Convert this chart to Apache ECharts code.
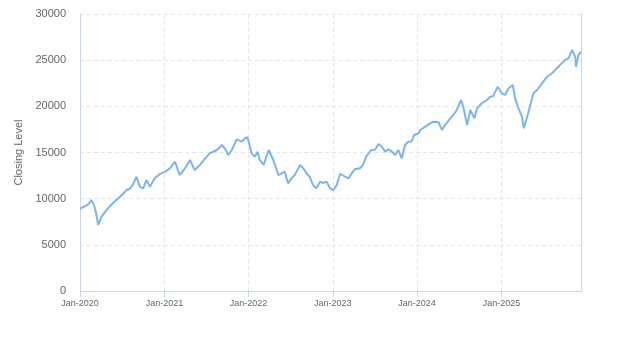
<!DOCTYPE html>
<html>
<head>
<meta charset="utf-8">
<script src="https://cdn.jsdelivr.net/npm/echarts@6/dist/echarts.min.js"></script>
<style>
  html, body { margin: 0; padding: 0; background: #fff; }
  #chart { width: 623px; height: 350px; }
</style>
</head>
<body>
<div id="chart"></div>
<script>
// Index closing levels, 2020 – 2025
const dates = [
  '2020-01-02','2020-01-14','2020-01-27','2020-02-07','2020-02-19','2020-03-02','2020-03-10','2020-03-20',
  '2020-03-27','2020-04-03','2020-04-17','2020-05-01','2020-05-22','2020-06-15','2020-07-01','2020-07-21',
  '2020-08-04','2020-08-17','2020-09-02','2020-09-16','2020-10-01','2020-10-15','2020-10-30','2020-11-20',
  '2020-12-11','2021-01-04','2021-01-25','2021-02-16','2021-03-08','2021-03-31','2021-04-22','2021-05-12',
  '2021-06-04','2021-06-25','2021-07-16','2021-08-16','2021-09-07','2021-09-21','2021-10-05','2021-10-20',
  '2021-11-10','2021-12-02','2021-12-16','2021-12-27','2022-01-14','2022-01-28','2022-02-09','2022-02-18',
  '2022-03-07','2022-03-14','2022-03-29','2022-04-18','2022-05-10','2022-05-24','2022-06-07','2022-06-21',
  '2022-07-06','2022-07-21','2022-08-12','2022-08-26','2022-09-09','2022-09-23','2022-10-07','2022-10-21',
  '2022-11-07','2022-11-21','2022-12-05','2022-12-20','2023-01-03','2023-01-18','2023-02-02','2023-02-09',
  '2023-02-23','2023-03-10','2023-03-24','2023-04-06','2023-04-28','2023-05-12','2023-05-26','2023-06-16',
  '2023-07-03','2023-07-18','2023-08-02','2023-08-16','2023-08-30','2023-09-14','2023-09-28','2023-10-12',
  '2023-10-27','2023-11-10','2023-11-24','2023-12-08','2023-12-20','2024-01-08','2024-01-15','2024-02-06',
  '2024-02-27','2024-03-12','2024-04-03','2024-04-18','2024-05-02','2024-05-24','2024-06-07','2024-06-21',
  '2024-07-10','2024-07-21','2024-08-05','2024-08-19','2024-09-06','2024-09-17','2024-10-08','2024-10-30',
  '2024-11-13','2024-11-26','2024-12-16','2025-01-03','2025-01-17','2025-02-01','2025-02-19','2025-03-03',
  '2025-03-16','2025-03-31','2025-04-08','2025-04-21','2025-05-06','2025-05-20','2025-06-04','2025-06-26',
  '2025-07-18','2025-08-08','2025-08-22','2025-09-05','2025-09-19','2025-10-03','2025-10-19','2025-11-03',
  '2025-11-17','2025-11-20','2025-12-01','2025-12-12'
];

const closes = [
  8900, 9100, 9250, 9400, 9850, 9300, 8500, 7150,
  7600, 8050, 8500, 8950, 9500, 10040, 10400, 10940,
  11100, 11500, 12380, 11300, 11120, 12020, 11300, 12200,
  12650, 12900, 13290, 14000, 12560, 13290, 14190, 13100,
  13650, 14300, 14910, 15270, 15810, 15400, 14730, 15270,
  16430, 16170, 16540, 16650, 14910, 14550, 15090, 14190,
  13650, 13600, 15270, 14190, 12560, 12750, 12920, 11660,
  12200, 12600, 13650, 13300, 12750, 12380, 11480, 11120,
  11840, 11700, 11840, 11120, 10940, 11480, 12700, 12500,
  12380, 12200, 12750, 13180, 13290, 13650, 14550, 15270,
  15300, 15920, 15630, 15090, 15350, 15090, 14730, 15270,
  14370, 15810, 16170, 16200, 16900, 17080, 17440, 17800,
  18160, 18340, 18300, 17440, 17980, 18700, 19060, 19600,
  20690, 19790, 17980, 19600, 18700, 19790, 20330, 20690,
  21040, 21100, 22130, 21410, 21230, 21950, 22310, 20690,
  19790, 18880, 17620, 18700, 20150, 21410, 21770, 22490,
  23210, 23580, 23930, 24290, 24650, 25010, 25200, 26100,
  25370, 24290, 25560, 25920
];

// Year labels on the time axis
const monthNames = ['Jan','Feb','Mar','Apr','May','Jun','Jul','Aug','Sep','Oct','Nov','Dec'];

const seriesData = dates.map((d, i) => [d, closes[i]]);

const chart = echarts.init(document.getElementById('chart'), null, { renderer: 'canvas' });

chart.setOption({
  animation: false,
  backgroundColor: '#ffffff',
  grid: { left: 80, right: 42, top: 14, bottom: 59, containLabel: false },
  xAxis: {
    type: 'time',
    min: '2020-01-01',
    max: dates[dates.length - 1],
    minInterval: 365 * 24 * 3600 * 1000,
    maxInterval: 366 * 24 * 3600 * 1000,
    axisLine: { show: true, lineStyle: { color: '#ccd6eb', width: 1 } },
    axisTick: { show: true, length: 6, lineStyle: { color: '#ccd6eb' } },
    axisLabel: {
      color: '#666666',
      fontSize: 9,
      fontFamily: 'Liberation Sans, Arial, sans-serif',
      margin: 8,
      hideOverlap: false,
      formatter: function (value) {
        const dt = new Date(value);
        return monthNames[dt.getMonth()] + '-' + dt.getFullYear();
      }
    },
    splitLine: { show: true, lineStyle: { color: '#e6e6e6', type: [4, 3], width: 1 } }
  },
  yAxis: [{
    type: 'value',
    min: 0,
    max: 30000,
    interval: 5000,
    name: 'Closing Level',
    nameLocation: 'middle',
    nameGap: 47,
    nameRotate: 90,
    nameTextStyle: { color: '#666666', fontSize: 11, fontFamily: 'Liberation Sans, Arial, sans-serif' },
    axisLine: { show: true, lineStyle: { color: '#ccd6eb', width: 1 } },
    axisTick: { show: false },
    axisLabel: {
      color: '#666666',
      fontSize: 11,
      fontFamily: 'Liberation Sans, Arial, sans-serif',
      margin: 14,
      formatter: function (v) { return String(v); }
    },
    splitLine: { show: true, lineStyle: { color: '#e6e6e6', type: [4, 3], width: 1 } }
  }, {
    type: 'value',
    position: 'right',
    min: 0,
    max: 30000,
    interval: 5000,
    axisLine: { show: true, lineStyle: { color: '#ccd6eb', width: 1 } },
    axisTick: { show: false },
    axisLabel: { show: false },
    splitLine: { show: false }
  }],
  series: [{
    type: 'line',
    data: seriesData,
    showSymbol: false,
    symbol: 'none',
    lineStyle: { color: '#7cb5ec', width: 2 },
    itemStyle: { color: '#7cb5ec' }
  }]
});
</script>
</body>
</html>
